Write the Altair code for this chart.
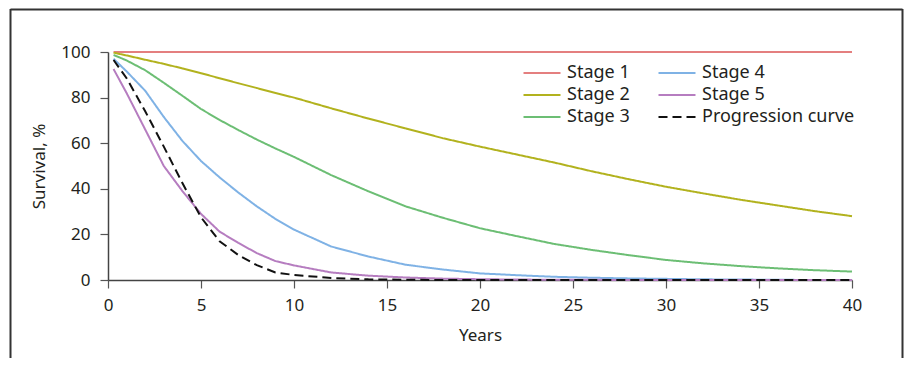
import altair as alt
import pandas as pd

years = [0.3, 1, 2, 3, 4, 5, 6, 7, 8, 9, 10, 12, 14, 16, 18, 20, 22, 24, 26, 28, 30, 32, 34, 36, 38, 40]
stage1 = [100, 100, 100, 100, 100, 100, 100, 100, 100, 100, 100, 100, 100, 100, 100, 100, 100, 100, 100, 100, 100, 100, 100, 100, 100, 100]
stage2 = [99.7, 98.5, 96.6, 94.8, 92.8, 90.7, 88.5, 86.3, 84.2, 82.0, 80.0, 75.3, 70.8, 66.5, 62.2, 58.5, 55.0, 51.5, 47.7, 44.2, 40.9, 38.0, 35.2, 32.7, 30.2, 28.0]
stage3 = [98.7, 96.3, 92.0, 86.5, 80.8, 75.0, 70.2, 65.8, 61.6, 57.7, 54.0, 46.0, 38.9, 32.3, 27.3, 22.7, 19.2, 15.8, 13.2, 10.9, 8.8, 7.3, 6.1, 5.1, 4.3, 3.7]
stage4 = [97.0, 91.5, 83.0, 71.5, 61.0, 52.2, 45.0, 38.4, 32.3, 26.8, 22.1, 14.7, 10.3, 6.7, 4.6, 2.9, 2.1, 1.4, 1.0, 0.7, 0.5, 0.3, 0.2, 0.1, 0.0, 0.0]
stage5 = [92.5, 82.0, 66.0, 50.0, 39.0, 29.0, 21.2, 16.3, 11.8, 8.3, 6.4, 3.3, 1.9, 1.1, 0.6, 0.35, 0.2, 0.1, 0.1, 0.0, 0.0, 0.0, 0.0, 0.0, 0.0, 0.0]
progression = [96.5, 88.5, 74.0, 58.5, 42.5, 27.5, 17.0, 11.0, 6.5, 3.3, 2.2, 0.9, 0.3, 0.1, 0.0, 0.0, 0.0, 0.0, 0.0, 0.0, 0.0, 0.0, 0.0, 0.0, 0.0, 0.0]

series_names = ["Stage 1", "Stage 2", "Stage 3", "Stage 4", "Stage 5", "Progression curve"]
series_values = [stage1, stage2, stage3, stage4, stage5, progression]
series_colors = ["#e47f7f", "#b2b21e", "#6cbe74", "#7fb2e5", "#b67dc0", "#111111"]
series_dash = [[1, 0], [1, 0], [1, 0], [1, 0], [1, 0], [9, 5]]

rows = []
for k, (name, vals) in enumerate(zip(series_names, series_values)):
    for yr, v in zip(years, vals):
        rows.append({"series": name, "order": k, "year": yr, "survival": v})
df = pd.DataFrame(rows)

FONT = "Noto Sans"
TXT = "#231f20"

legend = alt.Legend(
    title=None, orient="none", legendX=425, legendY=12, columns=2, direction="vertical",
    symbolType="M-2.5,0H2.5", symbolSize=219, symbolStrokeWidth=2,
    labelFont=FONT, labelFontSize=18, labelColor=TXT, labelOffset=16,
    rowPadding=4, columnPadding=24, padding=0,
)

lines = alt.Chart(df).mark_line(strokeWidth=2).encode(
    x=alt.X("year:Q", scale=alt.Scale(domain=[0, 40], nice=False),
            axis=alt.Axis(title="Years", values=[0, 5, 10, 15, 20, 25, 30, 35, 40])),
    y=alt.Y("survival:Q", scale=alt.Scale(domain=[0, 100], nice=False),
            axis=alt.Axis(title="Survival, %", values=[0, 20, 40, 60, 80, 100])),
    color=alt.Color("series:N", scale=alt.Scale(domain=series_names, range=series_colors), legend=legend),
    strokeDash=alt.StrokeDash("series:N", scale=alt.Scale(domain=series_names, range=series_dash), legend=legend),
    order=alt.Order("order:Q"),
    detail="series:N",
)

one = alt.Data(values=[{"f": 1}])
border = dict(color="#333333", strokeWidth=2)
left_edge = alt.Chart(one).mark_rule(**border).encode(
    x=alt.value(-97.5), y=alt.value(-43), y2=alt.value(400))
right_edge = alt.Chart(one).mark_rule(**border).encode(
    x=alt.value(794.5), y=alt.value(-43), y2=alt.value(400))
top_edge = alt.Chart(one).mark_rule(**border).encode(
    x=alt.value(-97.5), x2=alt.value(794.5), y=alt.value(-42.5))

chart = alt.layer(lines, left_edge, right_edge, top_edge).properties(
    width=744, height=228,
    autosize=alt.AutoSizeParams(type="none"),
    padding={"left": 100, "top": 44, "right": 52, "bottom": 78},
).configure_view(stroke=None).configure_axis(
    grid=False, domainColor="#444444", domainWidth=1.5, tickColor="#555555", tickWidth=1.2,
    tickSize=8, labelFont=FONT, labelFontSize=17, labelColor=TXT, labelFlush=False,
    titleFont=FONT, titleFontSize=17, titleColor=TXT, titleFontWeight="normal",
).configure_axisX(labelPadding=9, titlePadding=14).configure_axisY(labelPadding=10, titlePadding=12)

chart.save("out.html", embed_options={"renderer": "svg", "actions": False})
